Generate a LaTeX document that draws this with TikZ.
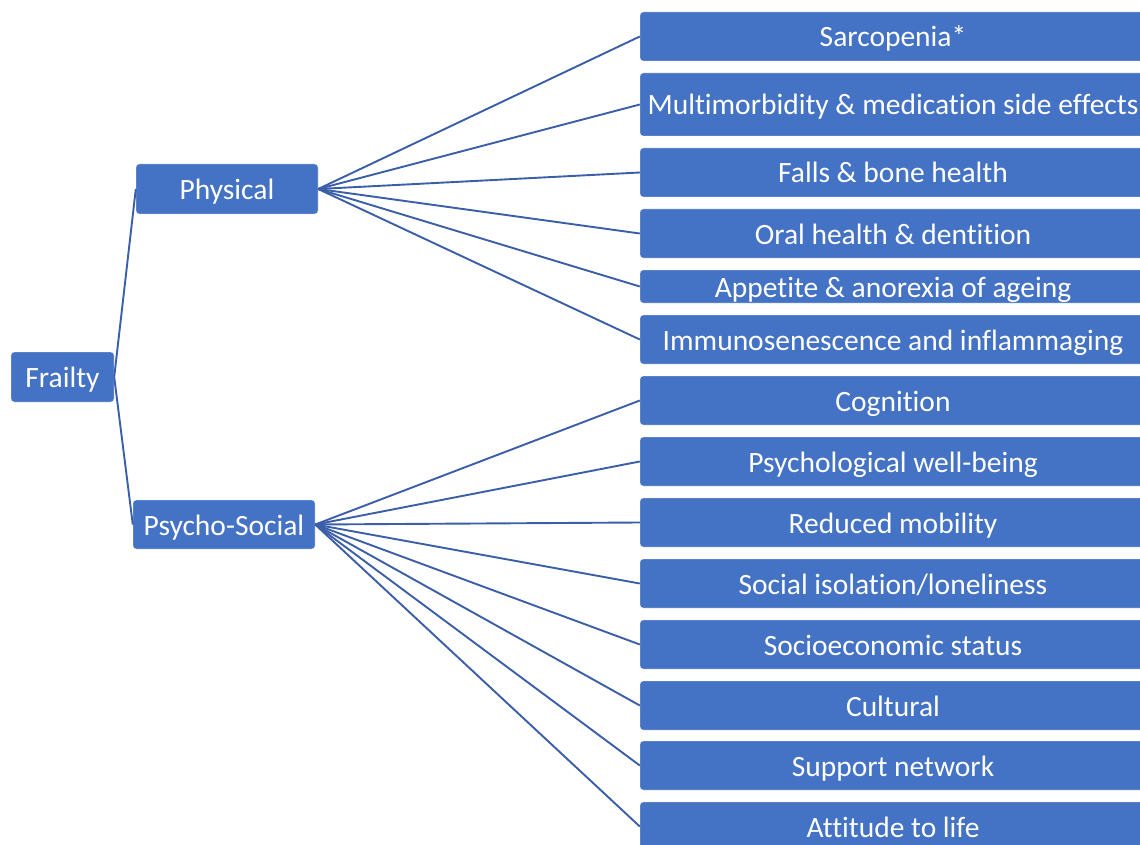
\documentclass[tikz,border=0pt]{standalone}
\usepackage{fontspec}
\setmainfont{Carlito}[Ligatures=NoCommon]
\definecolor{boxblue}{HTML}{4472C4}
\definecolor{linkblue}{HTML}{3A5EA8}

\begin{document}
\begin{tikzpicture}[x=1pt,y=-1pt]
\useasboundingbox (0,0) rectangle (1140,845);
\clip (0,0) rectangle (1140,845);
\begin{scope}[every node/.style={rectangle,rounded corners=3pt,fill=boxblue,draw=white,thin,
              text=white,inner sep=0pt,minimum height=49,minimum width=506,
              text height=27pt,text depth=6pt,
              font=\fontsize{29.5}{35}\selectfont}]
    \node [minimum width=103,minimum height=50] (frailty) at (62.5,377) {Frailty};
    \node [minimum width=182,minimum height=50] (physical) at (227,189) {Physical};
    \node [minimum width=182] (psycho) at (224,524.5) {Psycho-Social};
    % physical factors
    \node (sarc) at (893,36.5) {Sarcopenia*};
    \node [minimum height=63] (multi) at (893,104.5) {Multimorbidity \& medication side effects};
    \node (falls) at (893,172.5) {Falls \& bone health};
    \node (oral) at (893,233.5) {Oral health \& dentition};
    \node [minimum height=33] (appetite) at (893,286.5) {Appetite \& anorexia of ageing};
    \node (immuno) at (893,339.5) {Immunosenescence and inflammaging};
    % psycho-social factors
    \node (cognition) at (893,400.5) {Cognition};
    \node (wellbeing) at (893,461.5) {Psychological well-being};
    \node (mobility) at (893,522.5) {Reduced mobility};
    \node (isolation) at (893,583.5) {Social isolation/loneliness};
    \node (socioeco) at (893,644.5) {Socioeconomic status};
    \node (cultural) at (893,705.5) {Cultural};
    \node (support) at (893,765.5) {Support network};
    \node (attitude) at (893,826.5) {Attitude to life};
\end{scope}

\begin{scope}[every edge/.style={draw=linkblue,line width=1.9pt}]
    \path [-] (frailty.east) edge (physical.west);
    \path [-] (frailty.east) edge (psycho.west);
    \foreach \n in {sarc,multi,falls,oral,appetite,immuno}
        \path [-] (physical.east) edge (\n.west);
    \foreach \n in {cognition,wellbeing,mobility,isolation,socioeco,cultural,support,attitude}
        \path [-] (psycho.east) edge (\n.west);
\end{scope}
\end{tikzpicture}
\end{document}
